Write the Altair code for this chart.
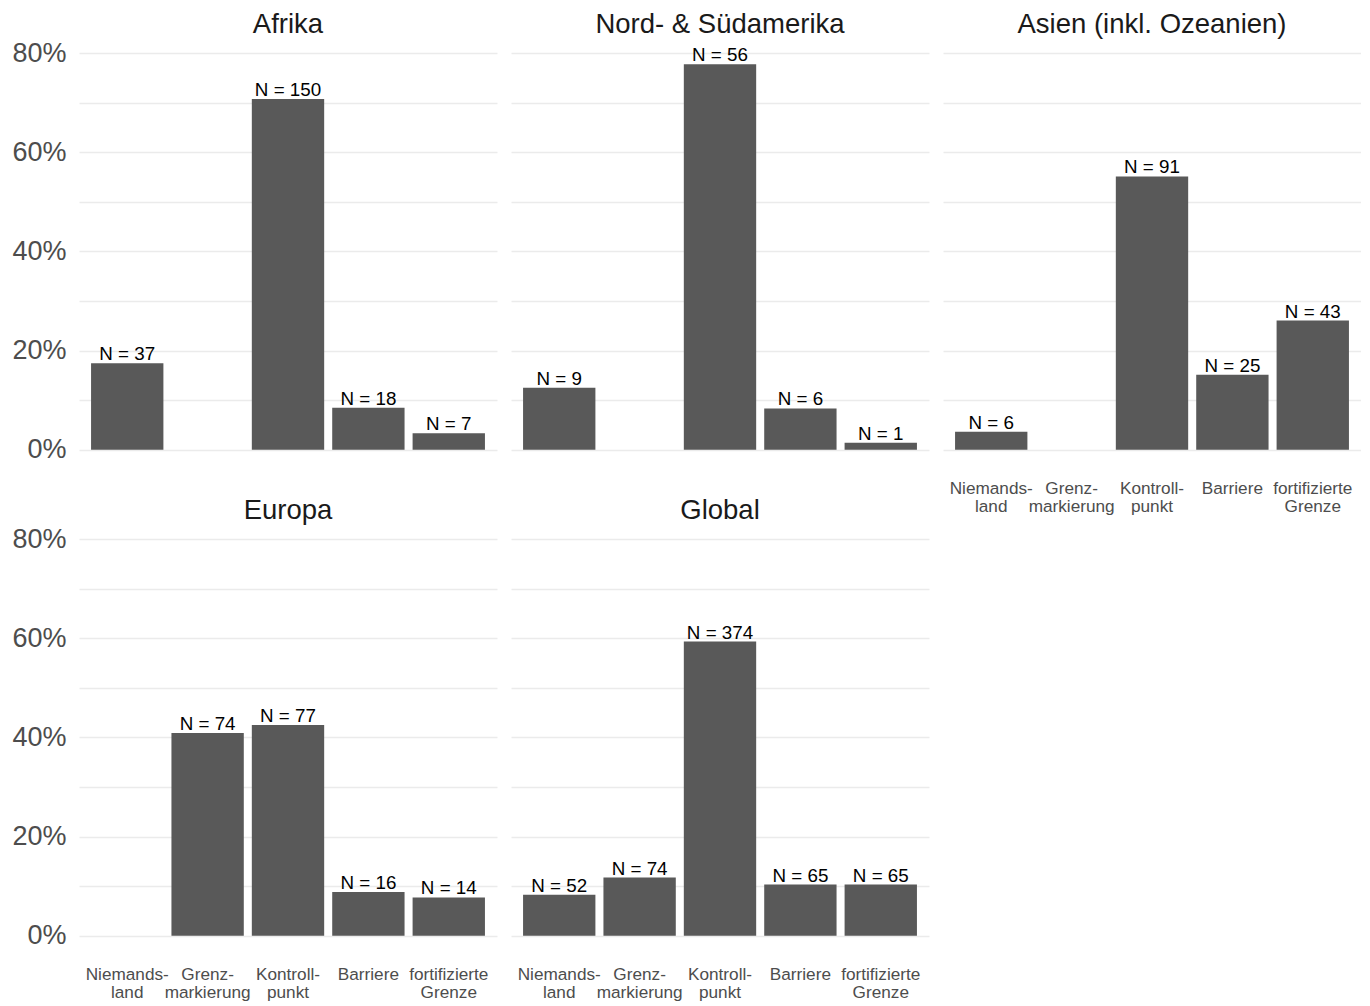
import altair as alt
import pandas as pd

# ---- data ----
regions = ["Afrika", "Nord- & Südamerika", "Asien (inkl. Ozeanien)", "Europa", "Global"]
categories = ["Niemands-|land", "Grenz-|markierung", "Kontroll-|punkt", "Barriere", "fortifizierte|Grenze"]
n_afrika = [37, 0, 150, 18, 7]
n_amerika = [9, 0, 56, 6, 1]
n_asien = [6, 0, 91, 25, 43]
n_europa = [0, 74, 77, 16, 14]
n_global = [52, 74, 374, 65, 65]

counts = [n_afrika, n_amerika, n_asien, n_europa, n_global]
rows = []
for reg, vals in zip(regions, counts):
    for cat, v in zip(categories, vals):
        rows.append({"region": reg, "category": cat, "n": v})
df = pd.DataFrame(rows)

FONT = "Liberation Sans"
W, H = 418, 424
Y_DOMAIN = [-0.0389, 0.8167]
Y_TICKS = [0, 0.1, 0.2, 0.3, 0.4, 0.5, 0.6, 0.7, 0.8]

grid_w = 1.3


def panel(region, show_y, show_x):
    base = (
        alt.Chart(df)
        .transform_filter(alt.FieldEqualPredicate(field="region", equal=region))
        .transform_joinaggregate(total="sum(n)")
        .transform_calculate(pct="datum.n / datum.total", label="'N = ' + datum.n")
        .transform_filter("datum.n > 0")
    )
    if show_x:
        xaxis = alt.Axis(
            title=None, labelAngle=0, ticks=False, domain=False, grid=False,
            labelExpr="split(datum.label, '|')", labelFont=FONT, labelFontSize=17.2,
            labelColor="#4D4D4D", labelPadding=10, labelLineHeight=18,
        )
    else:
        xaxis = None
    if show_y:
        lab_expr = "round(datum.value*100) % 20 == 0 ? format(datum.value, '.0%') : ''"
    else:
        # blank placeholder labels keep the same top overhang so titles align
        lab_expr = "round(datum.value*100) % 20 == 0 ? ' ' : ''"
    yaxis = alt.Axis(
        title=None, values=Y_TICKS, ticks=False, domain=False, grid=True,
        gridColor="#EBEBEB", gridWidth=grid_w,
        labelExpr=lab_expr,
        labelFont=FONT, labelFontSize=27, labelColor="#4D4D4D", labelPadding=13,
        labelOpacity=1 if show_y else 0,
    )
    x = alt.X(
        "category:N", sort=categories,
        scale=alt.Scale(domain=categories, paddingInner=0.1, paddingOuter=0.15),
        axis=xaxis,
    )
    y = alt.Y("pct:Q", scale=alt.Scale(domain=Y_DOMAIN, nice=False, zero=False), axis=yaxis)
    bars = base.mark_bar(color="#595959").encode(x=x, y=y)
    text = base.mark_text(
        font=FONT, fontSize=18.8, color="#000000", baseline="alphabetic", dy=-3
    ).encode(x=x, y=y, text="label:N")
    return alt.layer(bars, text).properties(
        width=W, height=H,
        title=alt.TitleParams(
            text=region, font=FONT, fontSize=27.5, fontWeight="normal",
            color="#1A1A1A", anchor="middle", offset=1,
        ),
    )


panels = [
    panel("Afrika", True, False),
    panel("Nord- & Südamerika", False, False),
    panel("Asien (inkl. Ozeanien)", False, True),
    panel("Europa", True, True),
    panel("Global", False, True),
]

chart = (
    alt.concat(*panels, columns=3, spacing={"row": 62, "column": 14}, bounds="flush")
    .properties(padding={"left": 3, "top": 2, "right": 0, "bottom": 0})
    .configure(background="white")
    .configure_view(strokeWidth=0, stroke="transparent")
)

chart.save("out.html", embed_options={"renderer": "svg", "actions": False})
